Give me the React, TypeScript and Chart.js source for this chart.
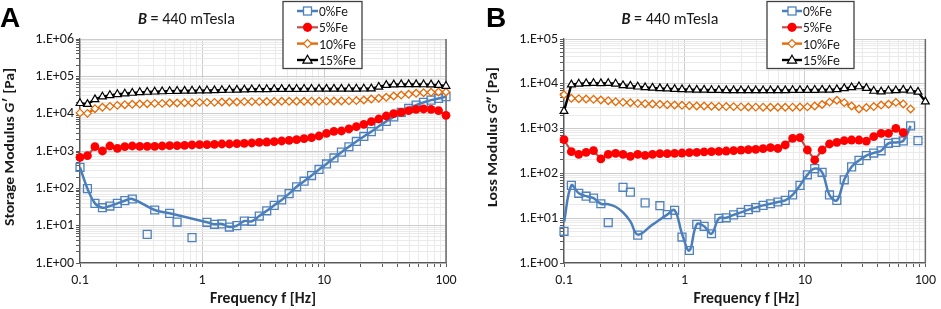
import React, { useEffect, useRef } from 'react';
import { Chart, registerables } from 'chart.js';

Chart.register(...registerables);

const FONT = "Carlito, Calibri, Lato, 'Open Sans', sans-serif";

// ---------- data ----------
const freq = [0.1, 0.1151, 0.1326, 0.1527, 0.1758, 0.2024, 0.233, 0.2683, 0.3089, 0.3556, 0.4095, 0.4715, 0.5429, 0.6251, 0.7197, 0.8286, 0.9541, 1.0985, 1.2649, 1.4563, 1.6768, 1.9307, 2.223, 2.5595, 2.9471, 3.3932, 3.9069, 4.4984, 5.1795, 5.9636, 6.8665, 7.906, 9.103, 10.481, 12.068, 13.895, 15.999, 18.421, 21.21, 24.421, 28.118, 32.375, 37.276, 42.919, 49.417, 56.899, 65.513, 75.431, 86.851, 100];

const xTickLabels = ['0.1', '1', '10', '100'];
const yTickLabelsA = ['1.E+00', '1.E+01', '1.E+02', '1.E+03', '1.E+04', '1.E+05', '1.E+06'];
const yTickLabelsB = ['1.E+00', '1.E+01', '1.E+02', '1.E+03', '1.E+04', '1.E+05'];
const seriesNames = ['0%Fe', '5%Fe', '10%Fe', '15%Fe'];

// Panel A: storage modulus G' [Pa]
const storage0 = [365, 98, 39.6, 30.3, 33.6, 39.6, 46.7, 51.8, null, 5.86, 26.3, null, 21.4, 12.5, null, 4.77, null, 12.3, 10.9, 11.1, 9.2, 10, 13.3, 13.1, 18.1, 25, 35, 49, 72, 110, 155, 220, 320, 450, 650, 930, 1300, 1800, 2450, 3300, 4600, 6200, 8200, 10800, 13800, 17000, 20000, 23000, 25500, 28500];
const storage0Trend = [365, 98, 39.6, 30.3, 33.6, 39.6, 46.7, 51.8, null, null, 26.3, null, 21.4, null, null, null, null, 12.3, 10.9, 11.1, 9.2, 10, 13.3, 13.1, 18.1, 25, 35, 49, 72, 110, 155, 220, 320, 450, 650, 930, 1300, 1800, 2450, 3300, 4600, 6200, 8200, 10800, 13800, 17000, 20000, 23000, 25500, 28500];
const storage5 = [676, 750, 1308, 1000, 1362, 1180, 1308, 1362, 1334, 1334, 1334, 1362, 1390, 1390, 1420, 1450, 1480, 1480, 1510, 1540, 1540, 1572, 1605, 1637, 1706, 1740, 1778, 1853, 1932, 2014, 2140, 2275, 2523, 2973, 3366, 3435, 3890, 4490, 5180, 6110, 7200, 8660, 10000, 10870, 12030, 13070, 13340, 13070, 12030, 9010];
const storage10 = [10500, 10200, 13600, 14800, 15700, 16700, 17400, 17800, 18100, 18500, 18900, 18900, 19300, 19300, 19700, 19700, 20100, 20100, 20100, 20500, 20500, 20500, 21000, 21000, 21000, 21200, 21300, 21400, 21400, 21500, 21500, 21600, 21600, 21700, 21800, 21900, 22000, 22400, 23200, 24700, 26000, 27400, 29700, 31500, 33000, 35100, 36500, 37300, 38000, 38000];
const storage15 = [19000, 18000, 24200, 28500, 31000, 33000, 34300, 35800, 37300, 38000, 38700, 39300, 39800, 40300, 40700, 41000, 41300, 41600, 42000, 42500, 43000, 43500, 44000, 44500, 44900, 45000, 45200, 45400, 45500, 45600, 45700, 45800, 45900, 46000, 46100, 46200, 46300, 46400, 46500, 47000, 52000, 58000, 60000, 61000, 61000, 61000, 60500, 60000, 58000, 55000];

// Panel B: loss modulus G'' [Pa]
const loss0 = [5.1, 54, 36, 31, 28, 21, 8, null, 49, 38, 4.2, 22, null, 19, 12, 15, 3.8, 1.9, 7.3, 6.6, 4.5, 9.9, 10.2, 11.9, 13.5, 15.5, 17.3, 19.3, 21, 23, 25, 33, 54, 93, 128, 106, 33, 25, 72, 140, 195, 250, 285, 320, 470, 490, 530, 1150, 540, null];
const loss0Trend = [8.1, 54, 36, 31, 28, 21, 20.5, 18, 13.5, 8.5, 4.3, null, 7.2, null, 12, 15, 4.5, 1.9, 7.3, 6.6, 4.5, 9.9, 10.2, 11.9, 13.5, 15.5, 17.3, 19.3, 21, 23, 25, 33, 54, 93, 128, 106, 33, 25, 72, 140, 195, 250, 285, 320, 470, 490, 530, 1150, null, null];
const loss5 = [565, 305, 267, 295, 321, 210, 267, 281, 267, 240, 267, 253, 267, 276, 276, 281, 285, 290, 295, 301, 305, 311, 316, 321, 330, 340, 344, 356, 375, 360, 431, 607, 628, 333, 199, 333, 453, 493, 537, 556, 556, 528, 661, 783, 783, 1013, 811, null, null, null];
const loss10 = [5700, 4740, 4660, 4580, 4500, 4350, 4200, 3990, 3850, 3790, 3660, 3600, 3540, 3480, 3420, 3360, 3310, 3250, 3190, 3190, 3150, 3120, 3100, 3090, 3050, 3030, 3020, 3010, 3000, 3000, 3000, 3010, 3030, 3050, 3200, 3450, 3900, 4300, 3800, 3200, 2750, 2950, 3100, 3350, 3500, 3850, 3550, 2750, null, null];
const loss10Unjoined = [47];
const loss15 = [2450, 9600, 10000, 10200, 10300, 10200, 10300, 10000, 9200, 9000, 8600, 8300, 8100, 7900, 7800, 7600, 7500, 7400, 7300, 7300, 7200, 7200, 7150, 7150, 7100, 7100, 7100, 7100, 7100, 7150, 7150, 7200, 7200, 7200, 7250, 7300, 7300, 7500, 7900, 8300, 8700, 8000, 6900, 6700, 7000, 7100, 7300, 7000, 6600, 4000];

// ---------- styles ----------
const STYLES = [
  { color: '#4F81BD', line: '#4A7EBB', lineWidth: 2.5, point: 'rect', radius: 5.6, fill: 'rgba(255,255,255,0)', bw: 1.3, tension: 0.4, order: 8 },
  { color: '#FF0000', line: '#C0504D', lineWidth: 2.2, point: 'circle', radius: 4.4, fill: '#FF0000', bw: 0, tension: 0, order: 6 },
  { color: '#E46C0A', line: '#E46C0A', lineWidth: 2.4, point: 'rectRot', radius: 3.8, fill: '#FFFFFF', bw: 1.3, tension: 0, order: 4 },
  { color: '#000000', line: '#000000', lineWidth: 2.4, point: 'triangle', radius: 4.5, fill: '#FFFFFF', bw: 1.2, tension: 0, order: 2 },
];

const isDecade = (v: number) => Math.abs(Math.log10(v) - Math.round(Math.log10(v))) < 1e-6;

const logTicks = (min: number, max: number) => {
  const out: { value: number }[] = [];
  for (let e = Math.round(Math.log10(min)); e < Math.round(Math.log10(max)); e++) {
    for (let m = 1; m < 10; m++) out.push({ value: m * Math.pow(10, e) });
  }
  out.push({ value: max });
  return out;
};

type PanelCfg = {
  values: (number | null)[][];
  trends: ((number | null)[] | null)[];
  unjoined: number[][];
  yLabels: string[];
  yMax: number;
  yAxisWidth: number;
  rightPad: number;
};

const toPts = (arr: (number | null)[]) =>
  freq.map((f, i) => ({ x: f, y: arr[i] })).filter((p) => p.y !== null && p.y !== undefined);

const plotBorder = {
  id: 'plotBorder',
  beforeDatasetsDraw(chart: any) {
    const { ctx, chartArea: a } = chart;
    ctx.save();
    ctx.strokeStyle = '#6b6b6b';
    ctx.lineWidth = 1.5;
    ctx.beginPath();
    ctx.moveTo(a.right, a.top);
    ctx.lineTo(a.right, a.bottom);
    ctx.stroke();
    ctx.restore();
  },
};

function makeChart(canvas: HTMLCanvasElement, cfg: PanelCfg) {
  const datasets: any[] = [];
  cfg.values.forEach((vals, k) => {
    const s = STYLES[k];
    const trend = cfg.trends[k] ?? vals.map((v, i) => (cfg.unjoined[k].includes(i) ? null : v));
    datasets.push({
      label: seriesNames[k] + ' line',
      data: toPts(trend),
      showLine: true,
      borderColor: s.line,
      borderWidth: s.lineWidth,
      pointRadius: 0,
      tension: s.tension,
      order: s.order,
      clip: false,
    });
    datasets.push({
      label: seriesNames[k],
      data: toPts(vals),
      showLine: false,
      pointStyle: s.point,
      pointRadius: s.radius,
      pointBorderColor: s.color,
      pointBackgroundColor: s.fill,
      pointBorderWidth: s.bw,
      order: s.order - 1,
      clip: false,
    });
  });

  const gridColor = (ctx: any) => (ctx.tick && isDecade(ctx.tick.value) ? '#CCCCCC' : '#EAEAEA');
  const tickFont = { family: FONT, size: 14 };

  return new Chart(canvas, {
    type: 'scatter',
    data: { datasets },
    plugins: [plotBorder],
    options: {
      animation: false,
      responsive: false,
      devicePixelRatio: 1,
      layout: { padding: { left: 0, right: cfg.rightPad, top: 39, bottom: 0 } },
      plugins: { legend: { display: false }, tooltip: { enabled: false } },
      scales: {
        x: {
          type: 'logarithmic',
          min: 0.1,
          max: 100,
          afterBuildTicks: (scale: any) => {
            scale.ticks = logTicks(0.1, 100);
          },
          afterFit: (scale: any) => {
            scale.height = 46;
          },
          ticks: {
            autoSkip: false,
            maxRotation: 0,
            padding: 5,
            color: '#1a1a1a',
            font: tickFont,
            callback: (v: any) => (isDecade(Number(v)) ? xTickLabels[Math.round(Math.log10(Number(v))) + 1] : ''),
          },
          grid: { color: gridColor, tickLength: 4, tickColor: '#595959', drawTicks: true },
          border: { display: true, color: '#595959', width: 1.3 },
        },
        y: {
          type: 'logarithmic',
          min: 1,
          max: cfg.yMax,
          afterBuildTicks: (scale: any) => {
            scale.ticks = logTicks(1, cfg.yMax);
          },
          afterFit: (scale: any) => {
            scale.width = cfg.yAxisWidth;
          },
          ticks: {
            autoSkip: false,
            padding: 2,
            color: '#1a1a1a',
            font: tickFont,
            callback: (v: any) => (isDecade(Number(v)) ? cfg.yLabels[Math.round(Math.log10(Number(v)))] : ''),
          },
          grid: { color: gridColor, tickLength: 4, tickColor: '#595959', drawTicks: true },
          border: { display: true, color: '#595959', width: 1.3 },
        },
      },
    } as any,
  });
}

// ---------- SVG legend ----------
function Marker({ k, cx, cy }: { k: number; cx: number; cy: number }) {
  const s = STYLES[k];
  if (k === 0) return <rect x={cx - 4} y={cy - 4} width={8} height={8} fill="#fff" stroke={s.color} strokeWidth={1.3} />;
  if (k === 1) return <circle cx={cx} cy={cy} r={4.6} fill={s.color} />;
  if (k === 2)
    return (
      <polygon
        points={`${cx},${cy - 4} ${cx + 4},${cy} ${cx},${cy + 4} ${cx - 4},${cy}`}
        fill="#fff"
        stroke={s.color}
        strokeWidth={1.3}
      />
    );
  return (
    <polygon
      points={`${cx},${cy - 4.8} ${cx + 4.6},${cy + 3.2} ${cx - 4.6},${cy + 3.2}`}
      fill="#fff"
      stroke={s.color}
      strokeWidth={1.2}
    />
  );
}

function Legend({ x, w, lx1, lx2, tx }: { x: number; w: number; lx1: number; lx2: number; tx: number }) {
  const rows = [11, 27.3, 43.6, 60];
  return (
    <g>
      <rect x={x} y={1.5} width={w} height={67} fill="#fff" stroke="#404040" strokeWidth={1.3} />
      {rows.map((cy, k) => (
        <g key={k}>
          <line x1={lx1} y1={cy} x2={lx2} y2={cy} stroke={STYLES[k].line} strokeWidth={STYLES[k].lineWidth} />
          <Marker k={k} cx={(lx1 + lx2) / 2} cy={cy} />
          <text
            x={tx}
            y={cy + 5}
            fontFamily={FONT}
            fontSize={14.5}
            fill="#1a1a1a"
            textLength={k < 2 ? 29 : 37}
            lengthAdjust="spacingAndGlyphs"
          >
            {seriesNames[k]}
          </text>
        </g>
      ))}
    </g>
  );
}

export default function App() {
  const refA = useRef<HTMLCanvasElement>(null);
  const refB = useRef<HTMLCanvasElement>(null);

  useEffect(() => {
    document.body.style.margin = '0';
    const a = makeChart(refA.current!, {
      values: [storage0, storage5, storage10, storage15],
      trends: [storage0Trend, null, null, null],
      unjoined: [[], [], [], []],
      yLabels: yTickLabelsA,
      yMax: 1e6,
      yAxisWidth: 80,
      rightPad: 24,
    });
    const b = makeChart(refB.current!, {
      values: [loss0, loss5, loss10, loss15],
      trends: [loss0Trend, null, null, null],
      unjoined: [[], [], loss10Unjoined, []],
      yLabels: yTickLabelsB,
      yMax: 1e5,
      yAxisWidth: 94,
      rightPad: 12,
    });
    return () => {
      a.destroy();
      b.destroy();
    };
  }, []);

  const titleFont = { fontFamily: FONT };

  return (
    <div style={{ position: 'relative', width: 941, height: 309, background: '#fff', overflow: 'hidden' }}>
      <canvas ref={refA} width={470} height={309} style={{ position: 'absolute', left: 0, top: 0 }} />
      <canvas ref={refB} width={471} height={309} style={{ position: 'absolute', left: 470, top: 0 }} />
      <svg width={941} height={309} style={{ position: 'absolute', left: 0, top: 0 }}>
        {/* panel letters */}
        <text x={0} y={26.5} fontFamily="'Liberation Sans', Arial, sans-serif" fontWeight="bold" fontSize={28} fill="#000">
          A
        </text>
        <text x={486} y={26.5} fontFamily="'Liberation Sans', Arial, sans-serif" fontWeight="bold" fontSize={28} fill="#000">
          B
        </text>
        {/* titles */}
        <text x={186.5} y={24} textAnchor="middle" fontSize={15.5} fill="#1a1a1a" textLength={97} lengthAdjust="spacingAndGlyphs" {...titleFont}>
          <tspan fontWeight="bold" fontStyle="italic">B</tspan> = 440 mTesla
        </text>
        <text x={670} y={24} textAnchor="middle" fontSize={15.5} fill="#1a1a1a" textLength={97} lengthAdjust="spacingAndGlyphs" {...titleFont}>
          <tspan fontWeight="bold" fontStyle="italic">B</tspan> = 440 mTesla
        </text>
        {/* y titles */}
        <text
          transform="translate(13.5,147) rotate(-90)"
          textAnchor="middle"
          fontSize={14.5}
          fontWeight="bold"
          fill="#1a1a1a"
          textLength={158}
          lengthAdjust="spacingAndGlyphs"
          {...titleFont}
        >
          Storage Modulus <tspan fontStyle="italic">G</tspan>′ [Pa]
        </text>
        <text
          transform="translate(497,137) rotate(-90)"
          textAnchor="middle"
          fontSize={14.5}
          fontWeight="bold"
          fill="#1a1a1a"
          textLength={140}
          lengthAdjust="spacingAndGlyphs"
          {...titleFont}
        >
          Loss Modulus <tspan fontStyle="italic">G</tspan>″ [Pa]
        </text>
        {/* x titles */}
        <text x={263} y={303} textAnchor="middle" fontSize={15.5} fontWeight="bold" fill="#1a1a1a" textLength={106} lengthAdjust="spacingAndGlyphs" {...titleFont}>
          Frequency f [Hz]
        </text>
        <text x={746.5} y={303} textAnchor="middle" fontSize={15.5} fontWeight="bold" fill="#1a1a1a" textLength={106} lengthAdjust="spacingAndGlyphs" {...titleFont}>
          Frequency f [Hz]
        </text>
        {/* legends */}
        <Legend x={283} w={79} lx1={297} lx2={318} tx={319} />
        <Legend x={767} w={87} lx1={782} lx2={802} tx={803} />
      </svg>
    </div>
  );
}
